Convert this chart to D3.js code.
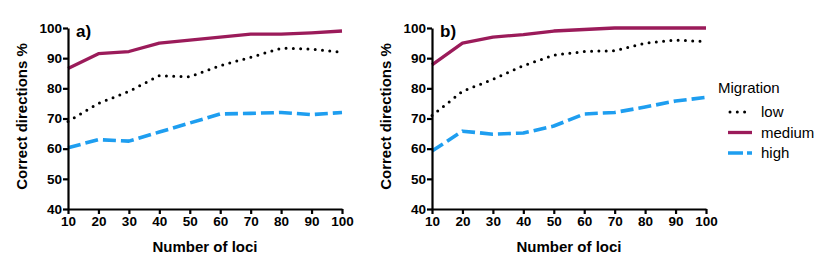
<!DOCTYPE html>
<html>
<head>
<meta charset="utf-8">
<script src="https://cdn.jsdelivr.net/npm/d3@7"></script>
<style>
  body { margin: 0; background: #fff; }
  text { font-family: "Liberation Sans", Arial, sans-serif; }
</style>
</head>
<body>
<div id="container"></div>
<script>
/* DATA */
const loci = [10, 20, 30, 40, 50, 60, 70, 80, 90, 100];
const yTicks = [40, 50, 60, 70, 80, 90, 100];
const seriesNames = ["low", "medium", "high"];

// panel a
const lowA    = [69, 75, 79, 84.2, 83.8, 87.5, 90.3, 93.3, 93, 92];
const mediumA = [86.6, 91.5, 92.2, 95, 96, 97, 98, 98, 98.4, 99];
const highA   = [60.3, 63, 62.5, 65.5, 68.5, 71.5, 71.7, 72, 71.3, 72];

// panel b
const lowB    = [71, 79, 83, 87.5, 91, 92.2, 92.5, 95, 96, 95.5];
const mediumB = [87.8, 95, 97, 97.8, 99, 99.5, 100, 100, 100, 100];
const highB   = [59.2, 65.8, 64.8, 65.2, 67.5, 71.5, 72, 73.8, 75.8, 77];

const panels = [
  { label: "a)", left: 68, series: [lowA, mediumA, highA] },
  { label: "b)", left: 432, series: [lowB, mediumB, highB] }
];

/* STYLES */
const styles = {
  low:    { color: "#000000", width: 3, dash: "0,7.3", cap: "round" },
  medium: { color: "#9b1b5a", width: 3.3, dash: null, cap: "butt" },
  high:   { color: "#1e9ef0", width: 3.6, dash: "13,5", cap: "butt" }
};

const W = 830, H = 272;
const plotW = 274, plotTop = 28, plotBottom = 209;

const svg = d3.select("#container")
  .append("svg")
  .attr("width", W)
  .attr("height", H);

panels.forEach(p => {
  const x = d3.scaleLinear().domain([10, 100]).range([p.left, p.left + plotW]);
  const y = d3.scaleLinear().domain([40, 100]).range([plotBottom, plotTop]);

  const g = svg.append("g");

  // lines
  p.series.forEach((vals, i) => {
    const st = styles[seriesNames[i]];
    const line = d3.line()
      .x((d, j) => x(loci[j]))
      .y(d => y(d));
    g.append("path")
      .datum(vals)
      .attr("d", line)
      .attr("fill", "none")
      .attr("stroke", st.color)
      .attr("stroke-width", st.width)
      .attr("stroke-linecap", st.cap)
      .attr("stroke-linejoin", "round")
      .attr("stroke-dasharray", st.dash);
  });

  // x axis
  const xAxis = g.append("g")
    .attr("transform", `translate(0,${plotBottom})`)
    .call(d3.axisBottom(x).tickValues(loci).tickSize(5).tickPadding(2).tickSizeOuter(0));

  // y axis
  const yAxis = g.append("g")
    .attr("transform", `translate(${p.left},0)`)
    .call(d3.axisLeft(y).tickValues(yTicks).tickSize(5).tickPadding(1).tickSizeOuter(0));

  [xAxis, yAxis].forEach(a => {
    a.select(".domain").attr("stroke", "#000").attr("stroke-width", 2.2);
    a.selectAll(".tick line").attr("stroke", "#000").attr("stroke-width", 2.2);
    a.selectAll(".tick text")
      .attr("fill", "#000")
      .style("font-family", "'Liberation Sans', Arial, sans-serif")
      .style("font-size", "13.5px")
      .style("font-weight", "bold");
  });

  // panel label
  g.append("text")
    .attr("x", p.left + 8)
    .attr("y", plotTop + 9)
    .attr("font-size", 17)
    .attr("font-weight", "bold")
    .text(p.label);

  // axis titles
  g.append("text")
    .attr("x", p.left + plotW / 2)
    .attr("y", 252)
    .attr("text-anchor", "middle")
    .attr("font-size", 15)
    .attr("font-weight", "bold")
    .text("Number of loci");

  g.append("text")
    .attr("transform", `translate(${p.left - 41},${(plotTop + plotBottom) / 2 - 2}) rotate(-90)`)
    .attr("text-anchor", "middle")
    .attr("font-size", 15)
    .attr("font-weight", "bold")
    .text("Correct directions %");
});

/* LEGEND */
const legend = svg.append("g").attr("transform", "translate(718,0)");
legend.append("text")
  .attr("x", 0)
  .attr("y", 93)
  .attr("font-size", 15)
  .text("Migration");

seriesNames.forEach((name, i) => {
  const st = styles[name];
  const yy = 112 + i * 20.5;
  legend.append("line")
    .attr("x1", name === "low" ? 12 : 10)
    .attr("x2", name === "low" ? 28 : 34)
    .attr("y1", yy)
    .attr("y2", yy)
    .attr("stroke", st.color)
    .attr("stroke-width", st.width)
    .attr("stroke-linecap", st.cap)
    .attr("stroke-dasharray", name === "high" ? "15,4" : st.dash);
  legend.append("text")
    .attr("x", 43)
    .attr("y", yy + 5)
    .attr("font-size", 15)
    .text(name);
});
</script>
</body>
</html>
